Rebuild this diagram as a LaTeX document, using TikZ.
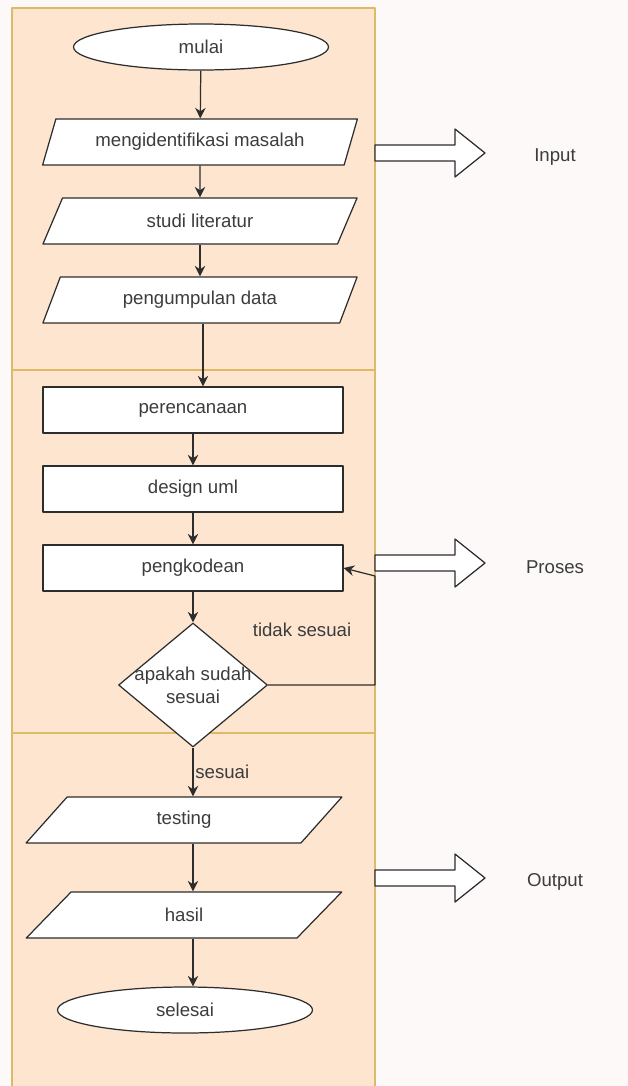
\documentclass[tikz,border=0pt]{standalone}
\usepackage{fontspec}
\setmainfont{Liberation Sans}
\usetikzlibrary{shapes.geometric,arrows.meta}
\definecolor{latar}{RGB}{252,249,248}
\definecolor{panel}{RGB}{253,229,208}
\definecolor{garispanel}{RGB}{221,186,104}
\definecolor{garis}{RGB}{45,45,45}
\definecolor{teks}{RGB}{60,60,60}
\begin{document}
\begin{tikzpicture}[x=0.02cm, y=-0.02cm, font=\fontsize{10.6}{13}\selectfont, line join=round, >={Stealth[length=6pt,width=6pt]},
	ket/.style={text=teks},
	terminal/.style={ellipse, draw=garis, line width=0.7pt, fill=white, minimum width=5.1cm, minimum height=0.92cm, inner sep=0pt, text=teks},
	io/.style={trapezium, trapezium left angle=61, trapezium right angle=119, trapezium stretches=true, draw=garis, line width=0.7pt, fill=white, minimum width=6.3cm, minimum height=0.92cm, inner sep=0pt, text=teks},
	proses/.style={rectangle, draw=garis, line width=0.7pt, fill=white, minimum width=6cm, minimum height=0.92cm, text=teks},
	cabang/.style={diamond, draw=garis, line width=0.7pt, fill=white, minimum width=2.98cm, minimum height=2.48cm, inner sep=0pt},
	alur/.style={draw=garis, line width=0.7pt, ->}]
		\useasboundingbox (0,0) rectangle (628,1086);
		\fill[latar] (0,0) rectangle (628,1086);
		\foreach \a/\b in {8/370,370/733,733/1092}\filldraw[fill=panel, draw=garispanel, line width=0.7pt] (12,\a) rectangle (375,\b);
		% bagian flowchart
		\node[terminal] (mulai) at (201,47) {mulai};
		\node[io] (idn) at (200,142) {mengidentifikasi masalah};
		\node[io] (studi) at (200,221) {studi literatur};
		\node[io] (data) at (200,300) {pengumpulan data};
		\node[proses] (rencana) at (193,410) {perencanaan};
		\node[proses] (uml) at (193,489) {design uml};
		\node[proses] (kode) at (193,568) {pengkodean};
		\node[cabang, label={[ket, align=center]center:apakah sudah\\sesuai}] (cek) at (193,685) {};
		\node[io, minimum width=6.32cm] (testing) at (184,820) {testing};
		\node[io, minimum width=6.32cm] (hasil) at (184,915) {hasil};
		\node[terminal] (selesai) at (185,1010) {selesai};
		\draw[alur] (mulai) -- (idn);
		\draw[alur] (idn) -- (studi);
		\draw[alur] (studi) -- (data);
		\draw[alur] ([xshift=0.06cm]data.south) -- ([xshift=0.06cm]data.south |- rencana.north);
		\draw[alur] (rencana) -- (uml);
		\draw[alur] (uml) -- (kode);
		\draw[alur] (kode) -- (cek);
		\draw[alur] (cek.south) -- (cek.south |- testing.north) node[midway, right, ket, inner sep=1pt] {sesuai};
		\draw[alur] (cek.south |- testing.south) -- (cek.south |- hasil.north);
		\draw[alur] (cek.south |- hasil.south) -- (cek.south |- selesai.north);
		\coordinate (belok) at (375,576);
		\draw[alur] (cek.east) -| (belok) -- (kode.east);
		\node[ket] (tidak) at (302,630) {tidak sesuai};
		% panah blok di kanan
		\foreach \y/\t in {153/Input,563/Proses,878/Output}{
			\draw[garis, line width=0.7pt, fill=white] (375,\y-8) -- (455,\y-8) -- (455,\y-24) -- (485,\y) -- (455,\y+24) -- (455,\y+8) -- (375,\y+8) -- cycle;
			\node[ket] (\t) at (555,\y+4) {\t};
		}
\end{tikzpicture}
\end{document}
